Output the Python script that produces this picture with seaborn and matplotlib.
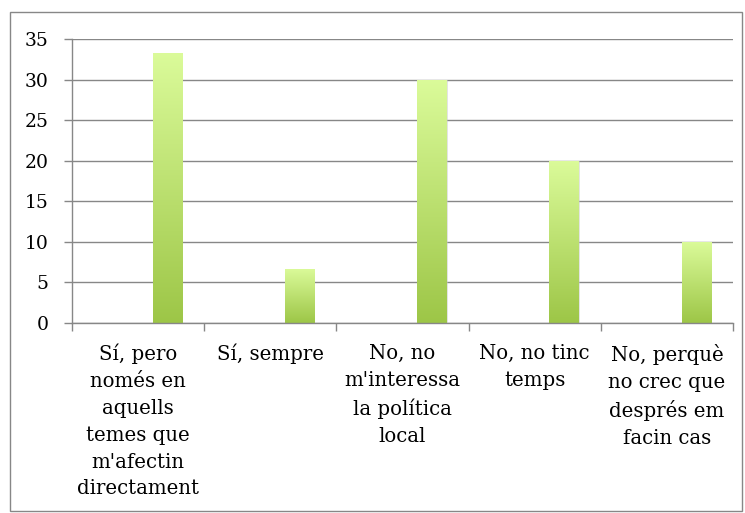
import numpy as np
import pandas as pd
import seaborn as sns
import matplotlib.pyplot as plt
from matplotlib.colors import LinearSegmentedColormap
from matplotlib.patches import Rectangle

categories = ["Sí, pero\nnomés en\naquells\ntemes que\nm'afectin\ndirectament",
              "Sí, sempre",
              "No, no\nm'interessa\nla política\nlocal",
              "No, no tinc\ntemps",
              "No, perquè\nno crec que\ndesprés em\nfacin cas"]
values = [33.3, 6.7, 30.0, 20.0, 10.0]
yticks = [0, 5, 10, 15, 20, 25, 30, 35]

sns.set_theme(style="white")
plt.rcParams['font.family'] = ['DejaVu Serif', 'Liberation Serif']

df = pd.DataFrame({'cat': categories, 'val': values, 'serie': 's3'})

fig = plt.figure(figsize=(7.45, 5.13), dpi=100)
ax = fig.add_axes([72 / 745, 1 - 323 / 513, (733 - 72) / 745, (323 - 39) / 513])

# three series slot per category, only the last one has data (as in the original sheet)
sns.barplot(data=df, x='cat', y='val', hue='serie', hue_order=['s1', 's2', 's3'],
            palette={'s1': 'white', 's2': 'white', 's3': '#b5d86a'},
            width=0.667, dodge=True, legend=False, ax=ax, linewidth=0)

# gradient fill for each bar
cmap = LinearSegmentedColormap.from_list('grn', ['#9dc647', '#dbfb9a'])
grad = np.linspace(0, 1, 256).reshape(-1, 1)
for p in list(ax.patches):
    h = p.get_height()
    if not np.isfinite(h) or h <= 0:
        continue
    x0, y0, w = p.get_x(), p.get_y(), p.get_width()
    # soft shadow
    sh = Rectangle((x0 + 0.008, y0), w, h - 0.05, facecolor='#c8c8c8', alpha=0.5,
                   edgecolor='none', zorder=1.5)
    ax.add_patch(sh)
    im = ax.imshow(grad, extent=[x0, x0 + w, y0, y0 + h], origin='lower',
                   cmap=cmap, aspect='auto', zorder=2)
    im.set_clip_path(p)
    p.set_facecolor('none')

ax.set_xlim(-0.5, 4.5)
ax.set_ylim(0, 35)
ax.set_yticks(yticks)
ax.yaxis.grid(True, color='#878787', linewidth=1)
ax.set_axisbelow(True)
ax.set_xlabel('')
ax.set_ylabel('')

for s in ['top', 'right']:
    ax.spines[s].set_visible(False)
for s in ['left', 'bottom']:
    ax.spines[s].set_color('#878787')
    ax.spines[s].set_linewidth(1)

ax.tick_params(axis='y', which='major', left=True, length=6, width=1, color='#878787',
               labelsize=13.5, pad=11, labelcolor='black')
ax.set_xticks(np.arange(-0.5, 5, 1), minor=True)
ax.tick_params(axis='x', which='minor', bottom=True, length=6, width=1, color='#878787')
ax.tick_params(axis='x', which='major', bottom=False, length=0, labelsize=14.2,
               pad=15, labelcolor='black')
for lbl in ax.get_xticklabels():
    lbl.set_linespacing(1.52)
    lbl.set_verticalalignment('top')

# outer chart border
fig.patches.append(Rectangle((10 / 745, 2 / 513), 732 / 745, 499 / 513,
                             transform=fig.transFigure, fill=False,
                             edgecolor='#878787', linewidth=1))

fig.savefig('out.png', dpi=100)
